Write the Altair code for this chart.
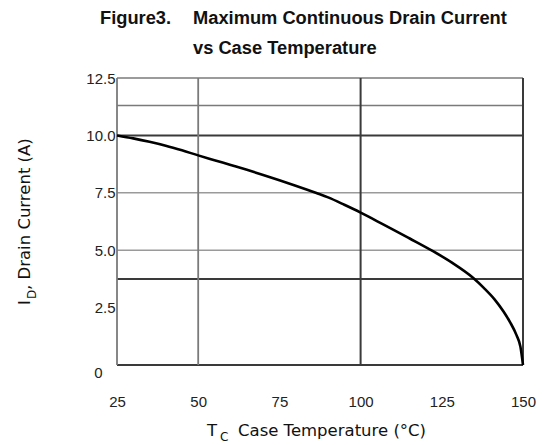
import altair as alt
import pandas as pd

# Curve values
temps = [25, 30, 35, 40, 45, 50, 55, 60, 65, 70, 75, 80, 86.4, 90, 95, 100, 105,
         110, 115, 122, 128, 134.6, 138, 141.3, 144, 146, 148, 149.2, 150]
current = [10.0, 9.87, 9.72, 9.55, 9.35, 9.13, 8.92, 8.71, 8.5, 8.28, 8.05, 7.81, 7.49,
           7.3, 6.98, 6.64, 6.27, 5.9, 5.52, 4.98, 4.47, 3.8, 3.35, 2.85, 2.33, 1.87,
           1.3, 0.8, 0.0]

x_ticks = [25, 50, 75, 100, 125, 150]
y_ticks = [0, 2.5, 5.0, 7.5, 10.0, 12.5]

# grid lines as drawn in the figure
y_grid_dark = [0, 3.75, 10.0]
y_grid_mid = [11.3, 12.5]
y_grid_light = [5.0, 7.5]
x_grid_dark = [100, 150]
x_grid_mid = [25, 50]

curve = pd.DataFrame({"T": temps, "I": current})

xs = alt.Scale(domain=[25, 150], nice=False, zero=False)
ys = alt.Scale(domain=[0, 12.5], nice=False)

base_axis = dict(grid=False, domain=False, ticks=False, labelFont="Liberation Sans",
                 labelFontSize=15, labelColor="#222", title=None)

line = alt.Chart(curve).mark_line(interpolate="monotone", color="black", strokeWidth=2.6).encode(
    x=alt.X("T:Q", scale=xs,
            axis=alt.Axis(values=x_ticks, labelPadding=29, labelFlush=False, **base_axis)),
    y=alt.Y("I:Q", scale=ys,
            axis=alt.Axis(values=y_ticks,
                          labelPadding={"condition": {"test": "datum.value == 0", "value": 15}, "value": 2},
                          labelOffset={"condition": {"test": "datum.value == 0", "value": 7}, "value": 0},
                          labelExpr="datum.value == 0 ? '0' : format(datum.value, '.1f')",
                          **base_axis)),
)


def hrules(vals, color, w):
    return alt.Chart(pd.DataFrame({"v": vals})).mark_rule(color=color, strokeWidth=w).encode(
        y=alt.Y("v:Q", scale=ys))


def vrules(vals, color, w):
    return alt.Chart(pd.DataFrame({"v": vals})).mark_rule(color=color, strokeWidth=w).encode(
        x=alt.X("v:Q", scale=xs))


def txt(s, x, y, size, bold=False, angle=0, font="Liberation Sans"):
    kw = dict(align="left", baseline="alphabetic", fontSize=size, font=font, color="#111",
              fontWeight="bold" if bold else "normal")
    if angle:
        kw["angle"] = angle
    return alt.Chart(pd.DataFrame({"t": [s]})).mark_text(**kw).encode(
        text="t:N", x=alt.value(x), y=alt.value(y))


grid = [
    hrules(y_grid_light, "#9a9a9a", 1.6),
    hrules(y_grid_mid, "#7a7a7a", 1.6),
    hrules(y_grid_dark, "#3a3a3a", 2),
    vrules(x_grid_mid, "#7a7a7a", 1.8),
    vrules(x_grid_dark, "#3a3a3a", 2),
]

texts = [
    txt("Figure3.", -17, -54, 18.3, bold=True),
    txt("Maximum Continuous Drain Current", 76, -54, 18.3, bold=True),
    txt("vs Case Temperature", 76, -24, 18.3, bold=True),
    # x title with subscript
    txt("T", 90, 358, 16.5, font="DejaVu Sans"),
    txt("C", 103, 363, 12, font="DejaVu Sans"),
    txt("Case Temperature (°C)", 121, 358, 16.5, font="DejaVu Sans"),
    # y title with subscript (rotated)
    txt("I", -87, 227, 16.5, angle=270, font="DejaVu Sans"),
    txt("D", -81, 221, 12, angle=270, font="DejaVu Sans"),
    txt(", Drain Current (A)", -87, 212, 16.5, angle=270, font="DejaVu Sans"),
]

chart = alt.layer(*grid, line, *texts).properties(
    width=406, height=287,
    autosize=alt.AutoSizeParams(type="none"),
    padding={"left": 109, "top": 70, "right": 20, "bottom": 79},
    background="white",
).configure_view(stroke=None)

chart.save("out.html", embed_options={"renderer": "svg", "actions": False})
